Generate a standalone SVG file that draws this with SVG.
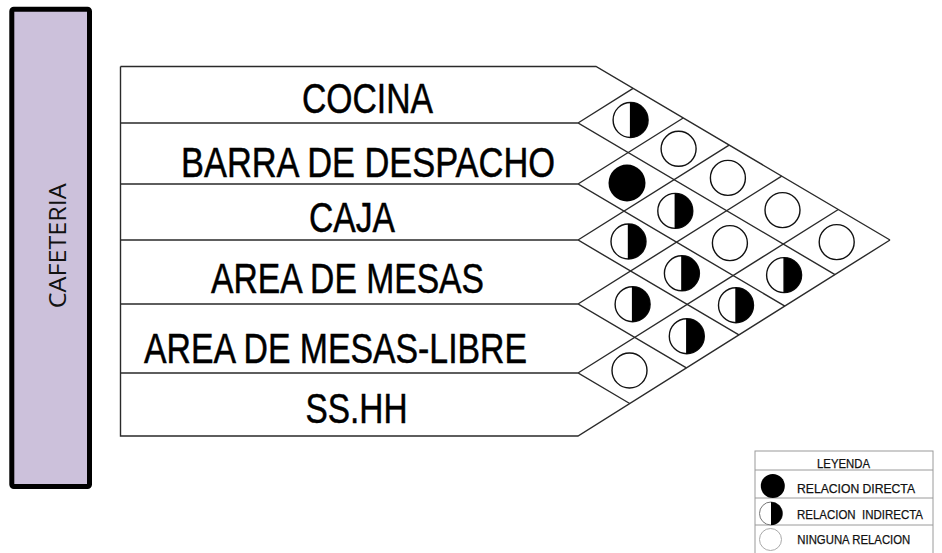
<svg xmlns="http://www.w3.org/2000/svg" xmlns:xlink="http://www.w3.org/1999/xlink" width="942" height="553" viewBox="0 0 942 553">
<style>
.ln{fill:none;stroke:#2a2a2a;stroke-width:1.4;stroke-linejoin:miter}
.lbl{font-family:"Liberation Sans",Arial,sans-serif;font-size:42px;fill:#000;stroke:#000;stroke-width:0.5}
.leg{font-family:"Liberation Sans",Arial,sans-serif;font-size:13px;fill:#111;stroke:#111;stroke-width:0.25}
.legln{fill:none;stroke:#9a9a9a;stroke-width:1}
</style>
<defs>
<g id="c-empty"><circle r="17.5" fill="#fff" stroke="#111" stroke-width="1.4"/></g>
<g id="c-half"><circle r="17.5" fill="#fff" stroke="#111" stroke-width="1.4"/><path d="M0,-17.5 A17.5,17.5 0 0 1 0,17.5 Z" fill="#000"/><line x1="0" y1="-17.5" x2="0" y2="17.5" stroke="#000" stroke-width="1.4"/></g>
<g id="c-full"><circle r="18.5" fill="#000"/></g>
</defs>
<rect width="942" height="553" fill="#fff"/>

<g id="cafeteria">
<rect x="11.8" y="9.2" width="77.7" height="477.3" rx="2" fill="#CCC1DB" stroke="#000" stroke-width="5"/>
<text transform="translate(66,245.8) rotate(-90)" text-anchor="middle" font-family="'Open Sans','Noto Sans',sans-serif" font-size="24" textLength="125" lengthAdjust="spacingAndGlyphs" fill="#111">CAFETERIA</text>
</g>

<g id="connectors">
<path class="ln" d="M120.5,66.5 H596 L890,240"/>
<path class="ln" d="M120.5,66.5 V436 H578 L890,240"/>
<path class="ln" d="M120.5,123 H578 L835,274.6 M578,123 L633.1,88.4"/>
<path class="ln" d="M120.5,184 H578 L784.9,306.1 M578,184 L683.2,118"/>
<path class="ln" d="M120.5,240 H578 L738.9,334.9 M578,240 L729.1,145.1"/>
<path class="ln" d="M120.5,304 H578 L686.4,367.9 M578,304 L781.7,176.1"/>
<path class="ln" d="M120.5,373 H578 L629.7,403.5 M578,373 L838.3,209.5"/>
</g>

<g id="row-cocina"><text class="lbl" x="302" y="113" textLength="131" lengthAdjust="spacingAndGlyphs">COCINA</text></g>
<g id="row-barra"><text class="lbl" x="181" y="177" textLength="374" lengthAdjust="spacingAndGlyphs">BARRA DE DESPACHO</text></g>
<g id="row-caja"><text class="lbl" x="309" y="232" textLength="86" lengthAdjust="spacingAndGlyphs">CAJA</text></g>
<g id="row-mesas"><text class="lbl" x="211" y="293" textLength="273" lengthAdjust="spacingAndGlyphs">AREA DE MESAS</text></g>
<g id="row-mesas-libre"><text class="lbl" x="144" y="363" textLength="383" lengthAdjust="spacingAndGlyphs">AREA DE MESAS-LIBRE</text></g>
<g id="row-sshh"><text class="lbl" x="305.5" y="423" textLength="102" lengthAdjust="spacingAndGlyphs">SS.HH</text></g>

<g id="matrix">
<use xlink:href="#c-half" x="630.6" y="120"/>
<use xlink:href="#c-empty" x="678.6" y="148.8"/>
<use xlink:href="#c-empty" x="727.9" y="177.9"/>
<use xlink:href="#c-empty" x="782.5" y="210.1"/>
<use xlink:href="#c-empty" x="836.7" y="242.1"/>
<use xlink:href="#c-full" x="627" y="183"/>
<use xlink:href="#c-half" x="675.3" y="210.9"/>
<use xlink:href="#c-empty" x="729.9" y="243.1"/>
<use xlink:href="#c-half" x="784.1" y="275.1"/>
<use xlink:href="#c-half" x="628.5" y="241.5"/>
<use xlink:href="#c-half" x="681.9" y="273.3"/>
<use xlink:href="#c-half" x="736" y="305.2"/>
<use xlink:href="#c-half" x="632.6" y="304.2"/>
<use xlink:href="#c-half" x="686.8" y="336.2"/>
<use xlink:href="#c-empty" x="629.5" y="370.5"/>
</g>

<g id="legend">
<rect class="legln" x="755" y="451" width="178" height="120"/>
<line class="legln" x1="755" y1="470" x2="933" y2="470"/>
<line class="legln" x1="755" y1="498" x2="933" y2="498"/>
<line class="legln" x1="755" y1="525" x2="933" y2="525"/>
<text class="leg" x="843.5" y="467.5" text-anchor="middle" textLength="53" lengthAdjust="spacingAndGlyphs">LEYENDA</text>
<circle cx="772.8" cy="486" r="12" fill="#000"/>
<text class="leg" x="797" y="493.3" textLength="118" lengthAdjust="spacingAndGlyphs">RELACION DIRECTA</text>
<circle cx="771" cy="513.5" r="11.5" fill="#fff" stroke="#777" stroke-width="1"/>
<path d="M771,502 A11.5,11.5 0 0 1 771,525 Z" fill="#000"/>
<text class="leg" x="797" y="519" textLength="126" lengthAdjust="spacingAndGlyphs" xml:space="preserve">RELACION  INDIRECTA</text>
<circle cx="770.5" cy="539.5" r="11" fill="#fff" stroke="#aaa" stroke-width="1"/>
<text class="leg" x="797.3" y="544" textLength="113" lengthAdjust="spacingAndGlyphs">NINGUNA RELACION</text>
</g>
</svg>
